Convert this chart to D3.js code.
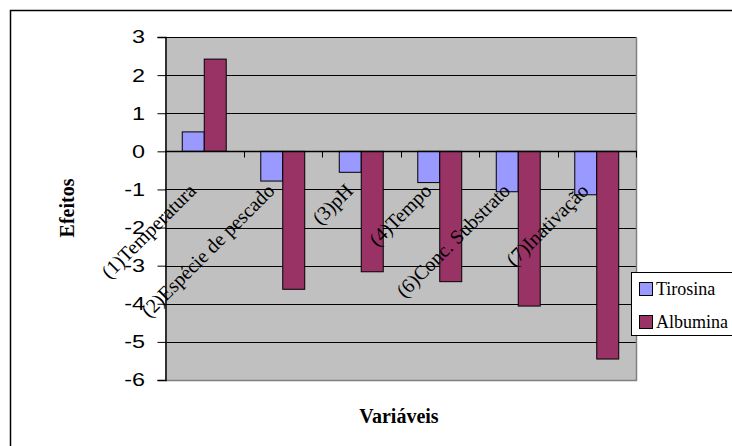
<!DOCTYPE html>
<html>
<head>
<meta charset="utf-8">
<script src="https://cdn.jsdelivr.net/npm/d3@7"></script>
<style>
  html, body { margin: 0; padding: 0; background: #fff; }
  svg { display: block; }
</style>
</head>
<body>
<svg id="chart" width="732" height="446"></svg>
<script>
// Effects of each variable on the two substrates
const categories = ["(1)Temperatura", "(2)Espécie de pescado", "(3)pH", "(4)Tempo", "(6)Conc. Substrato", "(7)Inativação"];
const seriesNames = ["Tirosina", "Albumina"];
const tirosina = [0.51, -0.78, -0.55, -0.82, -1.06, -1.14];
const albumina = [2.42, -3.62, -3.16, -3.42, -4.06, -5.45];
const yTicks = [3, 2, 1, 0, -1, -2, -3, -4, -5, -6];
const colors = ["#9999FF", "#993366"];

const seriesValues = [tirosina, albumina];
const svg = d3.select("#chart");

const plot = { left: 165, right: 636, top: 37, bottom: 380 };

// outer chart frame
svg.append("rect")
  .attr("x", 10.5).attr("y", 10.5)
  .attr("width", 800).attr("height", 500)
  .attr("fill", "#fff").attr("stroke", "#000").attr("stroke-width", 1.5);

const x = d3.scaleBand()
  .domain(categories)
  .range([plot.left, plot.right])
  .paddingInner(0.44)
  .paddingOuter(0.22);

const xSub = d3.scaleBand()
  .domain(seriesNames)
  .range([0, x.bandwidth()]);

const y = d3.scaleLinear()
  .domain([-6, 3])
  .range([plot.bottom, plot.top]);

// plot area
svg.append("rect")
  .attr("x", plot.left).attr("y", plot.top)
  .attr("width", plot.right - plot.left).attr("height", plot.bottom - plot.top)
  .attr("fill", "#C0C0C0");

// horizontal gridlines
svg.append("g")
  .selectAll("line")
  .data(yTicks.filter(d => d !== -6))
  .join("line")
  .attr("x1", plot.left).attr("x2", plot.right)
  .attr("y1", d => Math.round(y(d)) + 0.5).attr("y2", d => Math.round(y(d)) + 0.5)
  .attr("stroke", "#000").attr("stroke-width", 1);

// plot area border (right and bottom)
svg.append("path")
  .attr("d", `M${plot.right + 0.5},${plot.top}V${plot.bottom + 0.5}H${plot.left}`)
  .attr("fill", "none").attr("stroke", "#808080").attr("stroke-width", 1.5);

// bars
const groups = svg.append("g")
  .selectAll("g")
  .data(categories)
  .join("g")
  .attr("transform", d => `translate(${x(d)},0)`);

groups.selectAll("rect")
  .data((d, i) => seriesNames.map((s, j) => ({ s, v: seriesValues[j][i], c: colors[j] })))
  .join("rect")
  .attr("x", d => xSub(d.s))
  .attr("width", xSub.bandwidth())
  .attr("y", d => y(Math.max(0, d.v)))
  .attr("height", d => Math.abs(y(d.v) - y(0)))
  .attr("fill", d => d.c)
  .attr("stroke", "#000").attr("stroke-width", 1);

// y axis (line and ticks from the axis generator, wide labels drawn separately)
const yAxis = d3.axisLeft(y)
  .tickValues(yTicks)
  .tickSize(8)
  .tickFormat("");

const yG = svg.append("g")
  .attr("transform", `translate(${plot.left + 0.5},0)`)
  .call(yAxis);
yG.select(".domain").attr("stroke", "#000").attr("stroke-width", 1.5);
yG.selectAll(".tick line").attr("stroke", "#000");

svg.append("g")
  .selectAll("text")
  .data(yTicks)
  .join("text")
  .attr("transform", d => `translate(145,${y(d)}) scale(1.3,1)`)
  .attr("text-anchor", "end")
  .attr("dy", "0.36em")
  .attr("font-family", "'Liberation Sans', Arial, sans-serif")
  .attr("font-size", 18)
  .attr("fill", "#000")
  .text(d => String(d));

// x axis on the zero line, ticks at category boundaries
const zeroY = Math.round(y(0)) + 0.5;
svg.append("line")
  .attr("x1", plot.left).attr("x2", plot.right + 1)
  .attr("y1", zeroY).attr("y2", zeroY)
  .attr("stroke", "#000").attr("stroke-width", 1.5);

const step = x.step();
const boundaries = d3.range(categories.length + 1).map(i => plot.left + i * step);
svg.append("g")
  .selectAll("line")
  .data(boundaries.slice(1))
  .join("line")
  .attr("x1", d => Math.round(d) + 0.5).attr("x2", d => Math.round(d) + 0.5)
  .attr("y1", zeroY).attr("y2", zeroY + 6)
  .attr("stroke", "#000");

// rotated category labels
svg.append("g")
  .selectAll("text")
  .data(categories)
  .join("text")
  .attr("transform", d => `translate(${x(d) + x.bandwidth() / 2 - 7},${192}) rotate(-45)`)
  .attr("text-anchor", "end")
  .attr("font-family", "'Liberation Serif', 'Times New Roman', serif")
  .attr("font-size", 20)
  .attr("fill", "#000")
  .text(d => d);

// axis titles
svg.append("text")
  .attr("transform", "translate(74,208) rotate(-90)")
  .attr("text-anchor", "middle")
  .attr("font-family", "'Liberation Serif', 'Times New Roman', serif")
  .attr("font-weight", "bold")
  .attr("font-size", 20)
  .text("Efeitos");

svg.append("text")
  .attr("x", 399).attr("y", 423)
  .attr("text-anchor", "middle")
  .attr("font-family", "'Liberation Serif', 'Times New Roman', serif")
  .attr("font-weight", "bold")
  .attr("font-size", 20)
  .text("Variáveis");

// legend
const legend = svg.append("g").attr("transform", "translate(631,272)");
legend.append("rect")
  .attr("x", 0.5).attr("y", 0.5)
  .attr("width", 110).attr("height", 63)
  .attr("fill", "#fff").attr("stroke", "#000").attr("stroke-width", 1);

const items = legend.selectAll("g.item")
  .data(seriesNames)
  .join("g")
  .attr("class", "item")
  .attr("transform", (d, i) => `translate(8,${10 + i * 33})`);

items.append("rect")
  .attr("x", 0.5).attr("y", 0.5)
  .attr("width", 13).attr("height", 13)
  .attr("fill", (d, i) => colors[i])
  .attr("stroke", "#000");

items.append("text")
  .attr("x", 17).attr("y", 13)
  .attr("font-family", "'Liberation Serif', 'Times New Roman', serif")
  .attr("font-size", 18)
  .text(d => d);
</script>
</body>
</html>
